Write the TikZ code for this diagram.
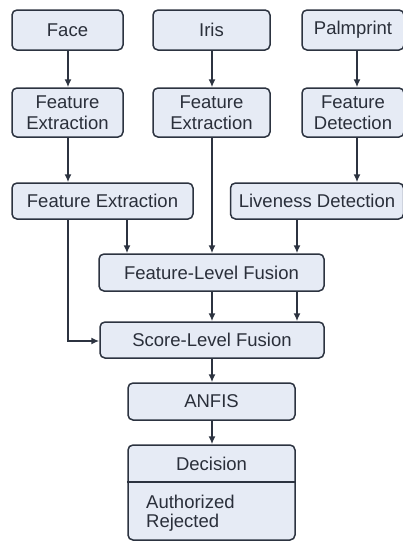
\documentclass[tikz,border=0pt]{standalone}
\usepackage{fontspec}
\setmainfont{Liberation Sans}
\usetikzlibrary{arrows.meta}
\definecolor{boxfill}{HTML}{E6EBF5}
\definecolor{boxline}{HTML}{2C3340}
\definecolor{txt}{HTML}{2A2F3A}
\begin{document}
\begin{tikzpicture}[x=1pt,y=-1pt,
  box/.style={draw=boxline,fill=boxfill,line width=1.5pt,rounded corners=5pt,
    text=txt,font=\fontsize{18.5}{21}\selectfont,align=center,inner sep=0pt},
  arr/.style={draw=boxline,line width=1.5pt,-{Latex[length=8pt,width=7pt]}},
  plain/.style={text=txt,font=\fontsize{18.5}{21}\selectfont,inner sep=0pt}]
\useasboundingbox (0,0) rectangle (403,541);
\clip (0,0) rectangle (403,541);
% row 1
\node[box,minimum width=111pt,minimum height=40pt] (face) at (67.5,30) {Face};
\node[box,minimum width=117pt,minimum height=40pt] (iris) at (211.5,30) {Iris};
\node[box,minimum width=102pt,minimum height=40pt] (palm) at (353,30) {Palmprint};
% row 2
\node[box,minimum width=111pt,minimum height=49pt] (fe1) at (67.5,112.5) {Feature\\Extraction};
\node[box,minimum width=117pt,minimum height=49pt] (fe2) at (211.5,112.5) {Feature\\Extraction};
\node[box,minimum width=102pt,minimum height=49pt] (fd) at (353,112.5) {Feature\\Detection};
% row 3
\node[box,minimum width=181pt,minimum height=36pt] (fe3) at (102.5,201) {Feature Extraction};
\node[box,minimum width=173pt,minimum height=36pt] (live) at (317,201) {Liveness Detection};
% fusion
\node[box,minimum width=225pt,minimum height=37pt] (flf) at (211.5,272.5) {Feature-Level Fusion};
\node[box,minimum width=224pt,minimum height=36pt] (slf) at (212,340) {Score-Level Fusion};
\node[box,minimum width=167pt,minimum height=37pt] (anfis) at (211.5,401.5) {ANFIS};
% decision
\node[box,minimum width=167pt,minimum height=95pt] (dec) at (211.5,492.5) {};
\node[plain] (dectitle) at (211.5,464) {Decision};
\draw[draw=boxline,line width=1.5pt] (dec.west |- 0,482) -- (dec.east |- 0,482);
\node[plain,anchor=west] (auth) at (146,502) {Authorized};
\node[plain,anchor=west] (rej) at (146,523) {Rejected};
% connectors
\draw[arr] (face.south -| 68,0) -- (fe1.north -| 68,0);
\draw[arr] (iris.south -| 212,0) -- (fe2.north -| 212,0);
\draw[arr] (palm.south -| 357,0) -- (fd.north -| 357,0);
\draw[arr] (fe1.south -| 68,0) -- (fe3.north -| 68,0);
\draw[arr] (fd.south -| 357,0) -- (live.north -| 357,0);
\draw[arr] (fe2.south -| 212,0) -- (flf.north -| 212,0);
\draw[arr] (fe3.south -| 127,0) -- (flf.north -| 127,0);
\draw[arr] (live.south -| 297,0) -- (flf.north -| 297,0);
\draw[arr] (flf.south -| 212,0) -- (slf.north -| 212,0);
\draw[arr] (flf.south -| 297,0) -- (slf.north -| 297,0);
\draw[arr] (fe3.south -| 68,0) |- (slf.west |- 0,341);
\draw[arr] (slf.south -| 212,0) -- (anfis.north -| 212,0);
\draw[arr] (anfis.south -| 212,0) -- (dec.north -| 212,0);
\end{tikzpicture}
\end{document}
